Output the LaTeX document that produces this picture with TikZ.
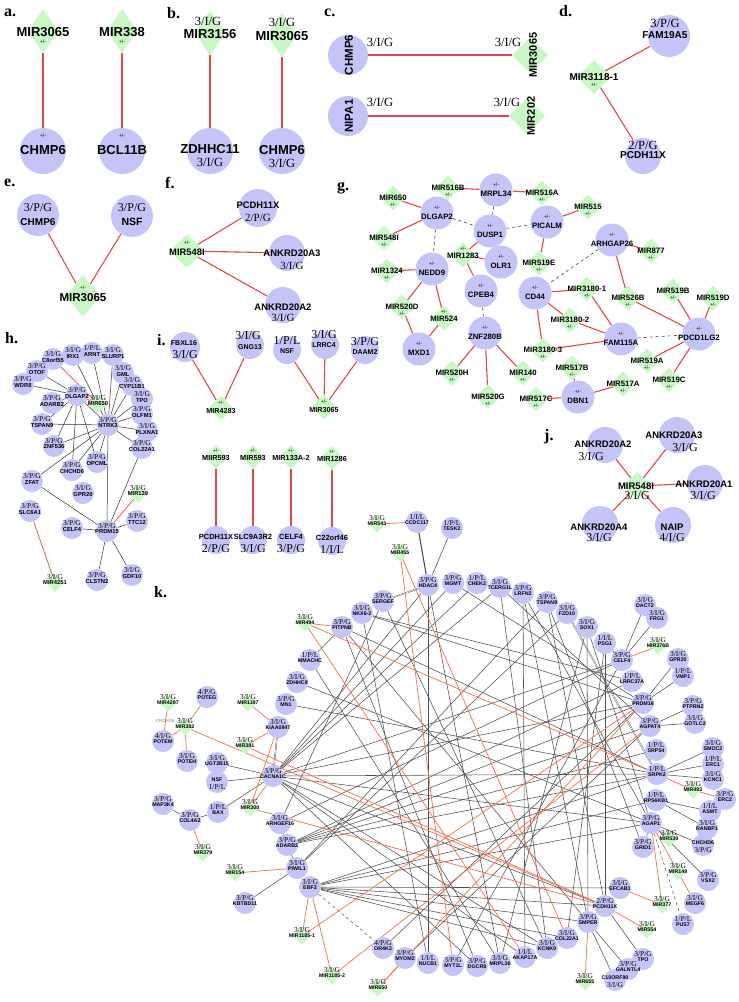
\documentclass[tikz,border=0pt]{standalone}
\usepackage{fontspec}
\setmainfont{Liberation Serif}
\setsansfont{Liberation Sans}
\usetikzlibrary{shapes.geometric}
\definecolor{genec}{RGB}{196,196,248}
\definecolor{mirc}{RGB}{200,248,196}
\definecolor{redl}{RGB}{226,72,72}
\definecolor{kred}{RGB}{238,120,90}
\definecolor{kgray}{RGB}{80,80,80}
\newcommand\fs[1]{\fontsize{#1}{#1}\selectfont}
\newcommand\nmf[1]{\sffamily\bfseries\fs{#1}}
\newcommand\lbf[1]{\rmfamily\fs{#1}}
\newcommand\pmf{\sffamily\fs{5}}
\newcount\tcnt
\newcount\phase
\tikzset{
 gfill/.style={}, mfill/.style={},
 gene/.style={circle,gfill,inner sep=0pt,minimum size=#1},
 gene/.default=22pt,
 mir/.style={diamond,mfill,inner sep=0pt,minimum size=#1},
 mir/.default=17pt,
 tx/.style={inner sep=0pt,align=center},
 rl/.style={draw=redl,line width=1.1pt},
 dl/.style={draw=black!75,dashed,line width=0.6pt},
 kr/.style={draw=kred,line width=0.75pt},
 kl/.style={draw=kgray,line width=0.55pt},
 hl/.style={draw=black!80,line width=0.5pt},
 panel/.style={font=\rmfamily\bfseries\fs{16},anchor=west,inner sep=0pt},
}
\newcommand\shp[1]{\ifnum\phase<2 #1\fi}
\newcommand\tn[4]{\ifnum\phase=2 \global\advance\tcnt by 1 \node[tx,font=#3] (t\the\tcnt) at (#1,#2) {#4};\fi}
\newcommand\tr[4]{\ifnum\phase=2 \global\advance\tcnt by 1 \node[tx,font=#3] (t\the\tcnt) at ([yshift=#2]#1) {#4};\fi}
\newcommand\pl[4]{\ifnum\phase=2 \node[panel] (#1) at (#2,#3) {#4};\fi}
\newcommand\rt[5]{\ifnum\phase=2 \node[tx,font=#4,rotate=90] (#1) at (#2,#3) {#5};\fi}
% panel g
\newcommand\GG[4]{\shp{\node[gene=33pt] (#1) at (#2,#3) {};}\tr{#1}{5pt}{\pmf}{+/-}\tr{#1}{-3.5pt}{\nmf{7.8}}{#4}}
\newcommand\GM[4]{\shp{\node[mir=25pt] (#1) at (#2,#3) {};}\tr{#1}{0.5pt}{\nmf{7.8}}{#4}\tr{#1}{-7pt}{\pmf}{+/-}}
\newcommand\GMu[4]{\shp{\node[mir=25pt] (#1) at (#2,#3) {};}\tr{#1}{6pt}{\pmf}{+/-}\tr{#1}{-1pt}{\nmf{7.8}}{#4}}
% panel h
\newcommand\HG[5]{\shp{\node[gene=22pt] (#1) at (#2,#3) {};}\tr{#1}{5pt}{\lbf{7.5}}{#4}\tr{#1}{-1pt}{\nmf{5.8}}{#5}}
\newcommand\HM[5]{\shp{\node[mir=18pt] (#1) at (#2,#3) {};}\tr{#1}{6pt}{\lbf{7.5}}{#4}\tr{#1}{0.5pt}{\nmf{5.8}}{#5}}
% panel k
\newcommand\KG[5]{\shp{\node[gene=22pt] (#1) at (#2,#3) {};}\tr{#1}{5pt}{\lbf{7.5}}{#4}\tr{#1}{-1pt}{\nmf{5.3}}{#5}}
\newcommand\KGr[5]{\shp{\node[gene=22pt] (#1) at (#2,#3) {};}\tr{#1}{2pt}{\nmf{5.3}}{#5}\tr{#1}{-5pt}{\lbf{7.5}}{#4}}
\newcommand\KM[5]{\shp{\node[mir=17pt] (#1) at (#2,#3) {};}\tr{#1}{6pt}{\lbf{7.5}}{#4}\tr{#1}{0pt}{\nmf{5.3}}{#5}}
\newcommand\allnodes{%
% ---------------- a
\pl{pa}{4}{13}{a.}
\shp{\node[mir,minimum width=30pt,minimum height=44pt] (aM1) at (43,31) {};}
\tn{43}{32}{\nmf{13}}{MIR3065}\tn{43}{42}{\pmf}{+/-}
\shp{\node[gene=46pt] (aG1) at (43,151) {};}
\tn{43}{136}{\pmf}{+/-}\tn{43}{150}{\nmf{13}}{CHMP6}
\shp{\node[mir,minimum width=30pt,minimum height=44pt] (aM2) at (122,31) {};}
\tn{122}{32}{\nmf{13}}{MIR338}\tn{122}{42}{\pmf}{+/-}
\shp{\node[gene=46pt] (aG2) at (122,151) {};}
\tn{122}{136}{\pmf}{+/-}\tn{122}{150}{\nmf{13}}{BCL11B}
% ---------------- b
\pl{pb}{167}{13}{b.}
\shp{\node[mir,minimum width=30pt,minimum height=44pt] (bM1) at (210,33) {};}
\tn{208}{21}{\lbf{12.5}}{3/I/G}\tn{210}{34}{\nmf{13}}{MIR3156}
\shp{\node[gene=46pt] (bG1) at (210,151) {};}
\tn{210}{149}{\nmf{13}}{ZDHHC11}\tn{210}{162}{\lbf{12.5}}{3/I/G}
\shp{\node[mir,minimum width=30pt,minimum height=44pt] (bM2) at (282,35) {};}
\tn{282}{22}{\lbf{12.5}}{3/I/G}\tn{282}{36}{\nmf{13}}{MIR3065}
\shp{\node[gene=46pt] (bG2) at (282,151) {};}
\tn{282}{150}{\nmf{13}}{CHMP6}\tn{282}{163}{\lbf{12.5}}{3/I/G}
% ---------------- c
\pl{pc}{324}{13}{c.}
\shp{\node[gene=40pt] (cG1) at (348,55) {};}
\rt{cG1t}{349}{55}{\nmf{11.5}}{CHMP6}
\tn{380}{42}{\lbf{12.5}}{3/I/G}
\shp{\node[mir=36pt] (cM1) at (530,55) {};}
\rt{cM1t}{533}{55}{\nmf{11}}{MIR3065}
\tn{508}{42}{\lbf{12.5}}{3/I/G}
\shp{\node[gene=40pt] (cG2) at (348,116) {};}
\rt{cG2t}{349}{116}{\nmf{11.5}}{NIPA1}
\tn{380}{102}{\lbf{12.5}}{3/I/G}
\shp{\node[mir=36pt] (cM2) at (527,116) {};}
\rt{cM2t}{531}{116}{\nmf{11}}{MIR202}
\tn{507}{102}{\lbf{12.5}}{3/I/G}
% ---------------- d
\pl{pd}{559}{11}{d.}
\shp{\node[gene=42pt] (dG1) at (669,36) {};}
\tn{665}{23}{\lbf{12.5}}{3/P/G}\tn{665}{35}{\nmf{10}}{FAM19A5}
\shp{\node[mir=34pt] (dM1) at (594,77) {};}
\tn{594}{77}{\nmf{10}}{MIR3118-1}\tn{594}{85}{\pmf}{+/-}
\shp{\node[gene=36pt] (dG2) at (643,156) {};}
\tn{643}{145}{\lbf{12.5}}{2/P/G}\tn{643}{155}{\nmf{10}}{PCDH11X}
% ---------------- e
\pl{pe}{4}{183}{e.}
\shp{\node[gene=42pt] (eG1) at (38,215) {};}
\tn{38}{208}{\lbf{12}}{3/P/G}\tn{38}{222}{\nmf{10}}{CHMP6}
\shp{\node[gene=42pt] (eG2) at (132,216) {};}
\tn{132}{208}{\lbf{12}}{3/P/G}\tn{132}{222}{\nmf{10.5}}{NSF}
\shp{\node[mir,minimum width=34pt,minimum height=42pt] (eM1) at (83,296) {};}
\tn{83}{288}{\pmf}{+/-}\tn{83}{298}{\nmf{11.5}}{MIR3065}
% ---------------- f
\pl{pf}{165}{183}{f.}
\shp{\node[gene=38pt] (fG1) at (258,208) {};}
\tn{258}{205}{\nmf{9.4}}{PCDH11X}\tn{258}{218}{\lbf{11}}{2/P/G}
\shp{\node[mir=34pt] (fM1) at (187,251) {};}
\tn{187}{243}{\pmf}{+/-}\tn{187}{252}{\nmf{9.4}}{MIR548I}
\shp{\node[gene=36pt] (fG2) at (287,253) {};}
\tn{292}{253}{\nmf{9.5}}{ANKRD20A3}\tn{292}{266}{\lbf{11}}{3/I/G}
\shp{\node[gene=36pt] (fG3) at (283,305) {};}
\tn{283}{307}{\nmf{9.5}}{ANKRD20A2}\tn{283}{318}{\lbf{11}}{3/I/G}
% ---------------- g
\pl{pg}{337}{188}{g.}
\GM{gMIR650}{393}{198}{MIR650}
\GG{gDLGAP2}{437}{213}{DLGAP2}
\GM{gMIR548I}{384}{238}{MIR548I}
\GM{gMIR516B}{448}{188}{MIR516B}
\GG{gMRPL34}{496}{190}{MRPL34}
\GM{gMIR516A}{542}{193}{MIR516A}
\GM{gMIR515}{588}{207}{MIR515}
\GG{gPICALM}{547}{222}{PICALM}
\GG{gDUSP1}{490}{231}{DUSP1}
\GMu{gMIR1283}{463}{255}{MIR1283}
\GG{gOLR1}{501}{262}{OLR1}
\GG{gNEDD9}{432}{269}{NEDD9}
\GM{gMIR1324}{387}{271}{MIR1324}
\GG{gCPEB4}{481}{291}{CPEB4}
\GM{gMIR519E}{539}{263}{MIR519E}
\GG{gARHGAP26}{612}{240}{ARHGAP26}
\GM{gMIR877}{651}{251}{MIR877}
\GG{gCD44}{535}{293}{CD44}
\GM{gMIR31801}{587}{289}{MIR3180-1}
\GM{gMIR526B}{628}{298}{MIR526B}
\GM{gMIR519B}{673}{291}{MIR519B}
\GM{gMIR519D}{713}{298}{MIR519D}
\GM{gMIR520D}{402}{307}{MIR520D}
\GMu{gMIR524}{444}{318}{MIR524}
\GG{gZNF280B}{485}{333}{ZNF280B}
\GM{gMIR31802}{570}{320}{MIR3180-2}
\GG{gFAM115A}{621}{339}{FAM115A}
\GG{gPDCD1LG2}{699}{334}{PDCD1LG2}
\GG{gMXD1}{419}{349}{MXD1}
\GM{gMIR31803}{543}{350}{MIR3180-3}
\GM{gMIR519A}{647}{361}{MIR519A}
\GM{gMIR520H}{452}{373}{MIR520H}
\GM{gMIR140}{523}{373}{MIR140}
\GM{gMIR517B}{572}{368}{MIR517B}
\GM{gMIR519C}{669}{380}{MIR519C}
\GM{gMIR520G}{488}{397}{MIR520G}
\GM{gMIR517C}{536}{399}{MIR517C}
\GG{gDBN1}{578}{397}{DBN1}
\GM{gMIR517A}{623}{384}{MIR517A}
% ---------------- h
\pl{ph}{5}{338}{h.}
\HG{hC8}{53}{359}{3/I/G}{C8orf55}
\HG{hIRX1}{73}{355}{3/I/G}{IRX1}
\HG{hARNT}{92}{353}{1/P/L}{ARNT}
\HG{hSLURP1}{113}{355}{3/I/G}{SLURP1}
\HG{hOTOF}{37}{371}{3/P/G}{OTOF}
\HG{hGML}{123}{373}{3/I/G}{GML}
\HG{hWDR8}{23}{384}{3/P/G}{WDR8}
\HG{hCYP}{132}{385}{3/I/G}{CYP11B1}
\HG{hDLGAP2}{77}{395}{3/P/G}{DLGAP2}
\HG{hTPO}{142}{399}{3/I/G}{TPO}
\HG{hADARB2}{52}{403}{3/P/G}{ADARB2}
\HM{hMIR650}{98}{404}{3/I/G}{MIR650}
\HG{hOLFM1}{142}{414}{3/P/G}{OLFM1}
\HG{hTSPAN9}{42}{424}{3/P/G}{TSPAN9}
\HG{hNTRK3}{108}{425}{3/P/G}{NTRK3}
\HG{hPLXNA1}{147}{431}{3/I/G}{PLXNA1}
\HG{hZNF536}{54}{446}{3/P/G}{ZNF536}
\HG{hCOL22A1}{142}{448}{3/P/G}{COL22A1}
\HG{hOPCML}{97}{462}{3/P/G}{OPCML}
\HG{hCHCHD6}{72}{470}{3/P/G}{CHCHD6}
\HG{hZFAT}{32}{481}{3/P/G}{ZFAT}
\HG{hGPR20}{83}{493}{3/I/G}{GPR20}
\HM{hMIR139}{138}{494}{3/I/G}{MIR139}
\HG{hSLC6A1}{30}{511}{3/P/G}{SLC6A1}
\HG{hTTC12}{137}{521}{3/P/G}{TTC12}
\HG{hCELF4}{72}{528}{3/P/G}{CELF4}
\HG{hPRDM15}{107}{531}{3/P/G}{PRDM15}
\HM{hMIR4251}{55}{583}{3/I/G}{MIR4251}
\HG{hCLSTN2}{97}{580}{3/P/G}{CLSTN2}
\HG{hGDF10}{132}{575}{3/I/G}{GDF10}
% ---------------- i
\pl{pi}{157}{340}{i.}
\shp{\node[gene=30pt] (iG1) at (185,347) {};}
\tn{184}{343}{\nmf{7}}{FBXL16}\tn{185}{355}{\lbf{12}}{3/I/G}
\shp{\node[gene=28pt] (iG2) at (250,345) {};}
\tn{248}{336}{\lbf{12}}{3/I/G}\tn{250}{347}{\nmf{7}}{GNG13}
\shp{\node[gene=28pt] (iG3) at (287,350) {};}
\tn{287}{341}{\lbf{12}}{1/P/L}\tn{287}{351}{\nmf{7}}{NSF}
\shp{\node[gene=28pt] (iG4) at (325,345) {};}
\tn{324}{335}{\lbf{12}}{3/I/G}\tn{324}{345}{\nmf{7}}{LRRC4}
\shp{\node[gene=28pt] (iG5) at (365,350) {};}
\tn{365}{342}{\lbf{12}}{3/P/G}\tn{365}{352}{\nmf{7}}{DAAM2}
\shp{\node[mir=25pt] (iM1) at (221,408) {};}
\tn{221}{403}{\pmf}{+/-}\tn{221}{411}{\nmf{7.2}}{MIR4283}
\shp{\node[mir=25pt] (iM2) at (324,407) {};}
\tn{324}{402}{\pmf}{+/-}\tn{324}{410}{\nmf{7.2}}{MIR3065}
\shp{\node[mir=24pt] (iM3) at (216,457) {};}
\tn{216}{451}{\pmf}{+/-}\tn{216}{458}{\nmf{7.3}}{MIIR593}
\shp{\node[mir=24pt] (iM4) at (253,457) {};}
\tn{253}{451}{\pmf}{+/-}\tn{253}{458}{\nmf{7.3}}{MIR593}
\shp{\node[mir=24pt] (iM5) at (291,457) {};}
\tn{291}{451}{\pmf}{+/-}\tn{291}{458}{\nmf{7.3}}{MIR133A-2}
\shp{\node[mir=24pt] (iM6) at (332,458) {};}
\tn{332}{452}{\pmf}{+/-}\tn{332}{459}{\nmf{7.3}}{MIR1286}
\shp{\node[gene=28pt] (iG6) at (216,540) {};}
\tn{216}{537}{\nmf{7.5}}{PCDH11X}\tn{216}{549}{\lbf{12}}{2/P/G}
\shp{\node[gene=28pt] (iG7) at (253,540) {};}
\tn{253}{537}{\nmf{7.5}}{SLC9A3R2}\tn{253}{549}{\lbf{12}}{3/I/G}
\shp{\node[gene=28pt] (iG8) at (291,540) {};}
\tn{291}{537}{\nmf{7.5}}{CELF4}\tn{291}{549}{\lbf{12}}{3/P/G}
\shp{\node[gene=28pt] (iG9) at (332,541) {};}
\tn{332}{538}{\nmf{7.5}}{C22orf46}\tn{332}{550}{\lbf{12}}{1/I/L}
% ---------------- j
\pl{pj}{544}{437}{j.}
\shp{\node[gene=36pt] (jG1) at (605,445) {};}
\tn{603}{444}{\nmf{9.5}}{ANKRD20A2}\tn{591}{457}{\lbf{12}}{3/I/G}
\shp{\node[gene=36pt] (jG2) at (677,435) {};}
\tn{674}{435}{\nmf{9.5}}{ANKRD20A3}\tn{685}{448}{\lbf{12}}{3/I/G}
\shp{\node[mir=28pt] (jM1) at (637,486) {};}
\tn{636}{486}{\nmf{9.5}}{MIR548I}\tn{637}{496}{\lbf{12}}{3/I/G}
\shp{\node[gene=36pt] (jG3) at (705,483) {};}
\tn{704}{484}{\nmf{9.5}}{ANKRD20A1}\tn{703}{496}{\lbf{12}}{3/I/G}
\shp{\node[gene=36pt] (jG4) at (600,524) {};}
\tn{599}{527}{\nmf{9.5}}{ANKRD20A4}\tn{599}{538}{\lbf{12}}{3/I/G}
\shp{\node[gene=36pt] (jG5) at (673,525) {};}
\tn{672}{527}{\nmf{9.5}}{NAIP}\tn{672}{538}{\lbf{12}}{4/I/G}
% ---------------- k
\pl{pk}{154}{592}{k.}
\KG{kHDAC4}{428}{585}{3/P/G}{HDAC4}
\KG{kMGMT}{453}{583}{3/P/G}{MGMT}
\KG{kCHEK2}{477}{583}{1/P/L}{CHEK2}
\KG{kTCERG}{500}{587}{3/I/G}{TCERG1L}
\KG{kLRFN2}{523}{593}{3/P/G}{LRFN2}
\KG{kTSPAN9}{547}{602}{3/P/G}{TSPAN9}
\KG{kFZD10}{567}{613}{3/I/G}{FZD10}
\KG{kSOX1}{587}{627}{3/I/G}{SOX1}
\KG{kPSG1}{605}{643}{1/I/L}{PSG1}
\KG{kCELF4}{622}{660}{3/P/G}{CELF4}
\KG{kLRRC37A}{632}{681}{1/P/L}{LRRC37A}
\KG{kPRDM16}{643}{703}{3/P/G}{PRDM16}
\KG{kAGPAT4}{650}{726}{3/P/G}{AGPAT4}
\KG{kSRP54}{656}{750}{1/P/L}{SRP54}
\KG{kSRPK2}{657}{774}{1/P/L}{SRPK2}
\KG{kRPS6KB1}{656}{800}{1/P/L}{RPS6KB1}
\KG{kAGAP1}{651}{823}{3/P/G}{AGAP1}
\KG{kGRID1}{643}{847}{3/P/G}{GRID1}
\KG{kDACT2}{645}{605}{3/I/G}{DACT2}
\KG{kFRG1}{657}{618}{3/I/G}{FRG1}
\KM{kMIR376B}{658}{646}{3/I/G}{MIR376B}
\KG{kGPR20}{678}{659}{3/I/G}{GPR20}
\KG{kVMP1}{683}{676}{1/P/L}{VMP1}
\KG{kPTPRN2}{693}{706}{3/P/G}{PTPRN2}
\KG{kGOTLC2}{695}{723}{3/I/G}{GOTLC2}
\KG{kSMOC2}{713}{748}{3/I/G}{SMOC2}
\KG{kERC1}{713}{764}{1/P/L}{ERC1}
\KG{kKCNC1}{713}{779}{3/I/G}{KCNC1}
\KM{kMIR493}{693}{790}{3/I/G}{MIR493}
\KG{kERC2}{725}{799}{3/P/G}{ERC2}
\KG{kASMT}{710}{811}{1/I/L}{ASMT}
\KG{kRANBP1}{707}{828}{3/I/G}{RANBP1}
\KGr{kCHCHD6}{703}{845}{3/P/G}{CHCHD6}
\KM{kMIR539}{669}{839}{3/I/G}{MIR539}
\KG{kVSX2}{708}{880}{3/P/G}{VSX2}
\KM{kMIR149}{678}{872}{3/I/G}{MIR149}
\KG{kMEGF6}{695}{903}{3/I/G}{MEGF6}
\KM{kMIR377}{662}{905}{3/I/G}{MIR377}
\KG{kPUS7}{683}{924}{1/P/L}{PUS7}
\KM{kMIR554}{647}{930}{3/I/G}{MIR554}
\KG{kEFCAB1}{620}{888}{3/I/G}{EFCAB1}
\KG{kPCDH11X}{605}{906}{2/P/G}{PCDH11X}
\KG{kSMPER}{588}{922}{3/P/G}{SMPER}
\KG{kTPO}{643}{959}{3/P/G}{TPO}
\KGr{kC10}{615}{980}{3/I/G}{C10ORF90}
\KG{kGALNTL4}{628}{969}{3/P/G}{GALNTL4}
\KM{kMIR655}{585}{982}{3/I/G}{MIR655}
\KG{kCOL22A1}{567}{938}{3/I/G}{COL22A1}
\KG{kKCNK9}{547}{948}{3/I/G}{KCNK9}
\KG{kAKAP17A}{525}{957}{1/I/L}{AKAP17A}
\KG{kMRPL36}{500}{963}{3/I/G}{MRPL36}
\KG{kDGCR8}{477}{966}{3/P/G}{DGCR8}
\KG{kMYT1L}{453}{965}{3/P/G}{MYT1L}
\KG{kNUCB1}{428}{963}{1/I/L}{NUCB1}
\KG{kMYOM2}{405}{958}{3/P/G}{MYOM2}
\KG{kOR4K3}{383}{948}{4/P/G}{OR4K3}
\KM{kMIR650}{378}{988}{3/I/G}{MIR650}
\KM{kMIR11852}{332}{976}{3/I/G}{MIR1185-2}
\KM{kMIR11851}{302}{936}{3/I/G}{MIR1185-1}
\KG{kEBF3}{310}{887}{3/I/G}{EBF3}
\KG{kKBTBD11}{245}{903}{3/P/G}{KBTBD11}
\KG{kPIWIL1}{297}{868}{3/I/G}{PIWIL1}
\KM{kMIR154}{235}{873}{3/I/G}{MIR154}
\KG{kADARB2}{287}{845}{3/P/G}{ADARB2}
\KG{kARHGEF16}{280}{823}{3/I/G}{ARHGEF16}
\KM{kMIR379}{203}{853}{3/I/G}{MIR379}
\KG{kCOL4A2}{190}{820}{3/P/G}{COL4A2}
\KG{kMAP3K4}{163}{804}{3/P/G}{MAP3K4}
\KG{kBAX}{218}{812}{1/P/L}{BAX}
\KM{kMIR300}{250}{808}{3/I/G}{MIR300}
\KG{kUGT2B15}{217}{763}{3/I/G}{UGT2B15}
\KGr{kNSF}{217}{782}{1/P/L}{NSF}
\KG{kCACNA1C}{273}{776}{3/P/G}{CACNA1C}
\KG{kPOTEH}{187}{761}{3/I/G}{POTEH}
\KM{kMIR381}{245}{746}{3/I/G}{MIR381}
\KG{kPOTEM}{163}{741}{4/I/G}{POTEM}
\KM{kMIR382}{185}{727}{3/I/G}{MIR382}
\KG{kKIAA}{278}{727}{3/I/G}{KIAA0947}
\KM{kMIR4297}{168}{703}{3/I/G}{MIR4297}
\KG{kPOTEG}{207}{697}{4/P/G}{POTEG}
\KM{kMIR1197}{248}{703}{3/I/G}{MIR1197}
\KG{kMN1}{286}{704}{3/P/G}{MN1}
\KG{kZDHHC8}{297}{682}{3/I/G}{ZDHHC8}
\KG{kMMACHC}{310}{660}{1/P/L}{MMACHC}
\KG{kPITPNB}{342}{627}{3/P/G}{PITPNB}
\KM{kMIR494}{305}{623}{3/I/G}{MIR494}
\KG{kNKX62}{362}{613}{3/I/G}{NKX6-2}
\KG{kSERGEF}{383}{601}{3/P/G}{SERGEF}
\KM{kMIR455}{400}{553}{3/I/G}{MIR455}
\KM{kMIR543}{377}{524}{3/I/G}{MIR543}
\KG{kCCDC117}{417}{522}{1/I/L}{CCDC117}
\KG{kTESK2}{452}{528}{1/P/L}{TESK2}
\ifnum\phase=2 \node[tx,font=\sffamily\fs{4.5},text=black!50] (kghost) at (165,721) {CHCHD6};\fi
}
\begin{document}
\begin{tikzpicture}[x=1pt,y=-1pt]
\fill[white] (0,0) rectangle (739,1002);
\useasboundingbox (0,0) rectangle (739,1002);
% phase 0: invisible named nodes
\phase=0
\allnodes
% ================= edges
% a-f
\draw[rl] (aM1)--(aG1); \draw[rl] (aM2)--(aG2);
\draw[rl] (bM1)--(bG1); \draw[rl] (bM2)--(bG2);
\draw[rl] (cG1)--(cM1); \draw[rl] (cG2)--(cM2);
\draw[rl] (dM1)--(dG1); \draw[rl] (dM1)--(dG2);
\draw[rl] (eG1)--(eM1); \draw[rl] (eG2)--(eM1);
\draw[rl] (fM1)--(fG1); \draw[rl] (fM1)--(fG2); \draw[rl] (fM1)--(fG3);
% g
\draw[rl] (gMIR650)--(gDLGAP2); \draw[rl] (gMIR548I)--(gDLGAP2);
\draw[dl] (gDLGAP2)--(gDUSP1); \draw[dl] (gDLGAP2)--(gNEDD9);
\draw[rl] (gMIR516B)--(gMRPL34); \draw[rl] (gMRPL34)--(gMIR516A);
\draw[dl] (gMRPL34)--(gDUSP1); \draw[dl] (gDUSP1)--(gPICALM);
\draw[rl] (gPICALM)--(gMIR515); \draw[rl] (gPICALM)--(gMIR519E);
\draw[rl] (gDUSP1)--(gMIR1283); \draw[rl] (gMIR1283)--(gOLR1); \draw[rl] (gMIR1283)--(gCPEB4);
\draw[rl] (gMIR1324)--(gNEDD9); \draw[rl] (gNEDD9)--(gMIR520D); \draw[rl] (gNEDD9)--(gMIR524);
\draw[rl] (gMIR520D)--(gMXD1); \draw[rl] (gMIR524)--(gMXD1);
\draw[dl] (gCPEB4)--(gZNF280B);
\draw[rl] (gZNF280B)--(gMIR520H); \draw[rl] (gZNF280B)--(gMIR520G); \draw[rl] (gZNF280B)--(gMIR140);
\draw[dl] (gARHGAP26)--(gCD44); \draw[rl] (gARHGAP26)--(gMIR877); \draw[rl] (gARHGAP26)--(gMIR526B);
\draw[rl] (gCD44)--(gMIR31801); \draw[rl] (gCD44)--(gMIR31802); \draw[rl] (gCD44)--(gMIR31803);
\draw[rl] (gMIR31801)--(gFAM115A); \draw[rl] (gMIR31802)--(gFAM115A); \draw[rl] (gMIR31803)--(gFAM115A);
\draw[dl] (gFAM115A)--(gPDCD1LG2); \draw[rl] (gMIR526B)--(gPDCD1LG2);
\draw[rl] (gMIR519B)--(gPDCD1LG2); \draw[rl] (gMIR519D)--(gPDCD1LG2);
\draw[rl] (gMIR519A)--(gPDCD1LG2); \draw[rl] (gMIR519C)--(gPDCD1LG2);
\draw[rl] (gMIR517B)--(gDBN1); \draw[rl] (gMIR517C)--(gDBN1); \draw[rl] (gMIR517A)--(gDBN1);
% h
\foreach \s in {hIRX1,hARNT,hSLURP1,hGML,hCYP,hTPO,hOLFM1,hPLXNA1,hCOL22A1,hTSPAN9,hZNF536,hCHCHD6,hOPCML,hZFAT,hDLGAP2,hPRDM15}
  \draw[hl] (\s)--(hNTRK3);
\foreach \s in {hOTOF,hWDR8,hADARB2,hZNF536,hCHCHD6,hOPCML,hTSPAN9}
  \draw[hl] (\s)--(hDLGAP2);
\foreach \s in {hCOL22A1,hZFAT,hCELF4,hTTC12,hCLSTN2,hGDF10}
  \draw[hl] (\s)--(hPRDM15);
\draw[rl,line width=0.7pt] (hC8)--(hMIR650); \draw[rl,line width=0.7pt] (hDLGAP2)--(hMIR650);
\draw[rl,line width=0.7pt] (hMIR139)--(hPRDM15); \draw[rl,line width=0.7pt] (hSLC6A1)--(hMIR4251);
% i
\draw[rl] (iG1)--(iM1); \draw[rl] (iG2)--(iM1);
\draw[rl] (iG3)--(iM2); \draw[rl] (iG4)--(iM2); \draw[rl] (iG5)--(iM2);
\draw[rl] (iM3)--(iG6); \draw[rl] (iM4)--(iG7); \draw[rl] (iM5)--(iG8); \draw[rl] (iM6)--(iG9);
% j
\foreach \s in {jG1,jG2,jG3,jG4,jG5} \draw[rl] (jM1)--(\s);
% k gray
\draw[kl,line width=1.1pt] (kCCDC117)--(kHDAC4);
\draw[kl] (kTESK2)--(kHDAC4);
\draw[kl,double=white,double distance=0.6pt,line width=0.4pt] (kHDAC4)--(kSERGEF);
\draw[kl] (kHDAC4)--(kMRPL36);
\draw[kl] (kMGMT)--(kPRDM16);
\draw[kl] (kTCERG)--(kAGPAT4);
\draw[kl] (kLRFN2)--(kAGAP1); \draw[kl] (kLRFN2)--(kSMPER);
\draw[kl] (kTSPAN9)--(kGRID1); \draw[kl] (kTSPAN9)--(kPCDH11X);
\draw[kl,double=white,double distance=0.6pt,line width=0.4pt] (kFZD10)--(kSRPK2);
\draw[kl] (kSOX1)--(kSMPER); \draw[kl] (kSOX1)--(kAGAP1);
\draw[kl] (kPSG1)--(kPCDH11X); \draw[kl] (kPSG1)--(kCELF4);
\draw[kl] (kCELF4)--(kDACT2); \draw[kl] (kCELF4)--(kFRG1);
\draw[kl] (kPRDM16)--(kGPR20); \draw[kl] (kPRDM16)--(kVMP1);
\draw[kl] (kAGPAT4)--(kPTPRN2); \draw[kl] (kAGPAT4)--(kGOTLC2);
\draw[kl] (kSRPK2)--(kSMOC2); \draw[kl] (kSRPK2)--(kERC1); \draw[kl] (kSRPK2)--(kKCNC1);
\draw[kl] (kRPS6KB1)--(kASMT); \draw[kl] (kRPS6KB1)--(kRANBP1);
\draw[kl] (kAGAP1)--(kCHCHD6); \draw[kl] (kAGAP1)--(kVSX2); \draw[kl] (kAGAP1)--(kGRID1);
\draw[kl] (kPCDH11X)--(kTPO); \draw[kl] (kSMPER)--(kGALNTL4); \draw[kl] (kSMPER)--(kC10);
\draw[kl] (kBAX)--(kCOL4A2); \draw[kl] (kCOL4A2)--(kMAP3K4);
\draw[kl] (kBAX)--(kCACNA1C); \draw[kl] (kNSF)--(kCACNA1C); \draw[kl] (kUGT2B15)--(kCACNA1C);
\draw[kl,double=white,double distance=0.6pt,line width=0.4pt] (kKIAA)--(kCACNA1C);
\draw[kl] (kMN1)--(kSRPK2); \draw[kl] (kZDHHC8)--(kAGAP1); \draw[kl] (kMMACHC)--(kPITPNB);
\draw[kl] (kCHEK2)--(kCACNA1C); \draw[kl] (kHDAC4)--(kCACNA1C); \draw[kl] (kMGMT)--(kCACNA1C);
\draw[kl] (kTCERG)--(kCACNA1C); \draw[kl] (kCELF4)--(kCACNA1C); \draw[kl] (kSRPK2)--(kCACNA1C);
\draw[kl] (kPCDH11X)--(kCACNA1C); \draw[kl] (kKCNK9)--(kCACNA1C); \draw[kl] (kAKAP17A)--(kCACNA1C);
\draw[kl] (kPRDM16)--(kCACNA1C); \draw[kl] (kAGAP1)--(kCACNA1C); \draw[kl] (kDGCR8)--(kCACNA1C);
\foreach \s in {kAGAP1,kRPS6KB1,kSRPK2,kPCDH11X,kSMPER,kCOL22A1,kKCNK9,kEFCAB1}
  \draw[kl] (kEBF3)--(\s);
\foreach \s in {kSRP54,kAGPAT4,kPRDM16,kLRRC37A,kSRPK2}
  \draw[kl] (kADARB2)--(\s);
\draw[kl] (kADARB2)--(kARHGEF16); \draw[kl] (kADARB2)--(kPIWIL1);
\draw[kl] (kARHGEF16)--(kCELF4); \draw[kl] (kARHGEF16)--(kSERGEF);
\draw[kl] (kPIWIL1)--(kTSPAN9); \draw[kl] (kPIWIL1)--(kFZD10); \draw[kl] (kPIWIL1)--(kKBTBD11);
\draw[kl] (kPITPNB)--(kSRPK2); \draw[kl] (kPITPNB)--(kSMPER);
\draw[kl] (kNKX62)--(kLRRC37A); \draw[kl] (kNKX62)--(kPRDM16);
\draw[kl] (kSERGEF)--(kKCNK9);
\draw[kl] (kNUCB1)--(kHDAC4); \draw[kl] (kNUCB1)--(kNKX62);
\draw[kl] (kDGCR8)--(kPITPNB); \draw[kl] (kMRPL36)--(kMMACHC);
\draw[kl] (kOR4K3)--(kPRDM16); \draw[kl] (kMYOM2)--(kAGPAT4);
\draw[kl] (kMYT1L)--(kCELF4); \draw[kl] (kMRPL36)--(kSOX1);
\draw[kl] (kAKAP17A)--(kLRFN2); \draw[kl] (kKCNK9)--(kTCERG);
\draw[kl] (kCOL22A1)--(kPSG1);
\draw[kl,dashed,line width=0.5pt] (kAGAP1)--(kPUS7);
\draw[kl,dashed,line width=0.5pt] (kEBF3)--(kOR4K3);
% k red
\draw[kr] (kMIR543)--(kCCDC117);
\draw[kr] (kMIR455)--(kMYT1L); \draw[kr] (kMIR455)--(kCOL22A1);
\draw[kr] (kMIR494)--(kPITPNB); \draw[kr] (kMIR494)--(kAKAP17A); \draw[kr] (kMIR494)--(kSRPK2);
\draw[kr] (kMIR4297)--(kPOTEM);
\draw[kr] (kMIR382)--(kPOTEG); \draw[kr] (kMIR382)--(kPOTEM); \draw[kr] (kMIR382)--(kPOTEH);
\draw[kr] (kMIR382)--(kPCDH11X);
\draw[kr] (kMIR1197)--(kKIAA); \draw[kr] (kMIR381)--(kKIAA); \draw[kr] (kMIR381)--(kPCDH11X);
\draw[kr] (kKIAA)--(kMIR300); \draw[kr] (kMIR300)--(kCACNA1C); \draw[kr] (kMIR300)--(kPCDH11X);
\draw[kr] (kMIR379)--(kCOL4A2); \draw[kr] (kMIR154)--(kPIWIL1);
\draw[kr] (kMIR11851)--(kEBF3); \draw[kr] (kMIR11852)--(kEBF3);
\draw[kr] (kMIR11851)--(kPRDM16); \draw[kr] (kMIR11852)--(kAGPAT4);
\draw[kr] (kMIR650)--(kMYOM2); \draw[kr] (kMIR650)--(kPRDM16);
\draw[kr] (kMIR655)--(kSMPER); \draw[kr] (kMIR554)--(kPCDH11X);
\draw[kr] (kMIR377)--(kEFCAB1); \draw[kr] (kMIR377)--(kAGAP1);
\draw[kr] (kMIR149)--(kAGAP1); \draw[kr] (kMIR149)--(kMEGF6);
\draw[kr] (kMIR539)--(kAGAP1);
\draw[kr] (kMIR493)--(kSRPK2); \draw[kr] (kMIR493)--(kERC2);
\draw[kr] (kMIR376B)--(kCELF4);
% phase 1: filled shapes
\phase=1
\tikzset{gfill/.style={fill=genec},mfill/.style={fill=mirc}}
\allnodes
% phase 2: texts
\phase=2
\allnodes
\end{tikzpicture}
\end{document}
